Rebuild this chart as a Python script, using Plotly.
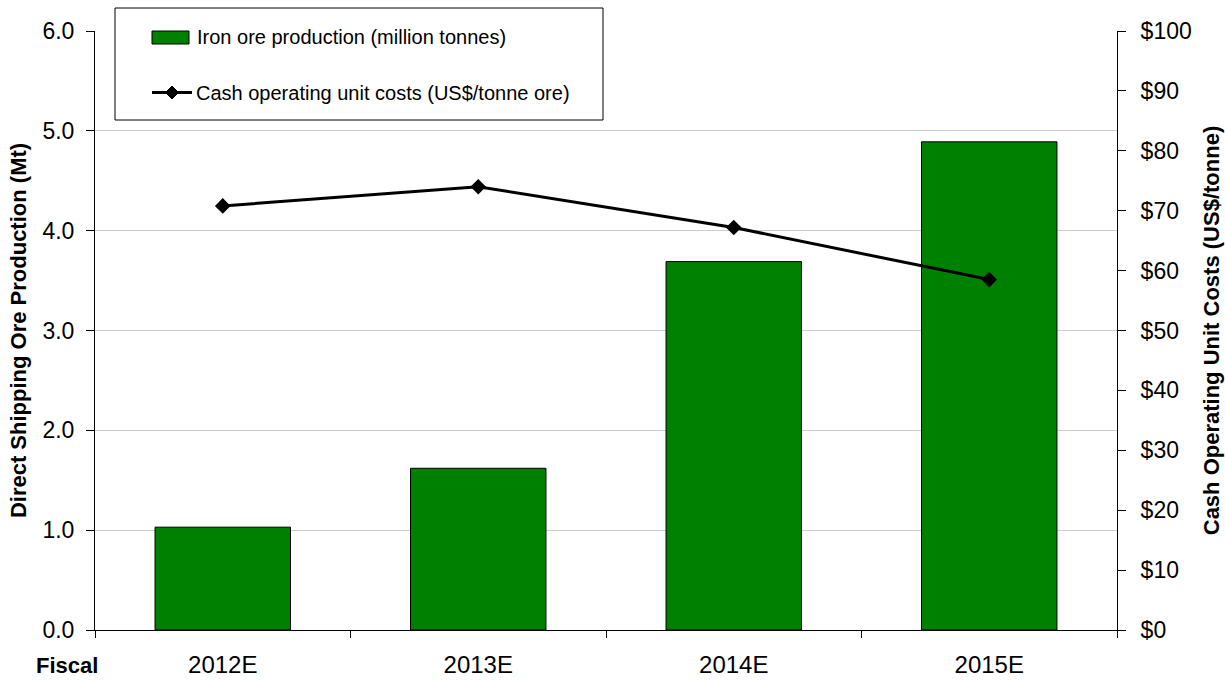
import plotly.graph_objects as go

categories = ["2012E", "2013E", "2014E", "2015E"]
production_mt = [1.03, 1.62, 3.69, 4.89]
unit_costs_usd = [70.8, 74.0, 67.2, 58.5]

bar_name = "Iron ore production (million tonnes)"
line_name = "Cash operating unit costs (US$/tonne ore)"

FONT = "Liberation Sans, Arial, sans-serif"
GREEN = "#008000"

W, H = 1225, 681
L, R, T, B = 95, 108, 31, 51
pw, ph = W - L - R, H - T - B


def px_x(x):
    return (x - L) / pw


def px_y(y):
    return (H - B - y) / ph


fig = go.Figure()
fig.add_trace(go.Bar(
    x=categories, y=production_mt, name=bar_name,
    marker=dict(color=GREEN, line=dict(color="#000000", width=1)),
    width=0.53, yaxis="y", showlegend=False,
))
fig.add_trace(go.Scatter(
    x=categories, y=unit_costs_usd, name=line_name, mode="lines+markers",
    line=dict(color="#000000", width=3),
    marker=dict(symbol="diamond", size=12, color="#000000"),
    yaxis="y2", showlegend=False,
))

# legend box (drawn manually so the swatch matches the wide rectangle)
fig.add_shape(type="rect", xref="paper", yref="paper",
              x0=px_x(115), x1=px_x(603), y0=px_y(120), y1=px_y(8),
              fillcolor="white", line=dict(color="black", width=1), layer="above")
fig.add_shape(type="rect", xref="paper", yref="paper",
              x0=px_x(152), x1=px_x(189), y0=px_y(44), y1=px_y(31),
              fillcolor=GREEN, line=dict(color="black", width=1), layer="above")
fig.add_shape(type="line", xref="paper", yref="paper",
              x0=px_x(152), x1=px_x(192), y0=px_y(92.5), y1=px_y(92.5),
              line=dict(color="black", width=3), layer="above")
cx, cy, hw = 172, 92.5, 6.5
diamond = "M {},{} L {},{} L {},{} L {},{} Z".format(
    px_x(cx - hw), px_y(cy), px_x(cx), px_y(cy - hw),
    px_x(cx + hw), px_y(cy), px_x(cx), px_y(cy + hw))
fig.add_shape(type="path", xref="paper", yref="paper", path=diamond,
              fillcolor="black", line=dict(color="black", width=1), layer="above")
fig.add_annotation(text=bar_name, xref="paper", yref="paper",
                   x=px_x(195), y=px_y(37), xanchor="left", yanchor="middle",
                   showarrow=False, font=dict(family=FONT, size=20, color="black"))
fig.add_annotation(text=line_name, xref="paper", yref="paper",
                   x=px_x(194), y=px_y(92.5), xanchor="left", yanchor="middle",
                   showarrow=False, font=dict(family=FONT, size=20, color="black"))

fig.add_annotation(text="<b>Fiscal</b>", xref="paper", yref="paper",
                   x=px_x(67), y=px_y(665), xanchor="center", yanchor="middle",
                   showarrow=False, font=dict(family=FONT, size=22, color="black"))

fig.update_layout(
    width=W, height=H,
    margin=dict(l=L, r=R, t=T, b=B, pad=0),
    paper_bgcolor="white", plot_bgcolor="white",
    font=dict(family=FONT, size=22, color="black"),
    showlegend=False,
    xaxis=dict(type="category", showline=True, linecolor="black", linewidth=1,
               ticks="outside", ticklen=7, tickcolor="black", tickson="boundaries",
               showgrid=False, ticklabelstandoff=13, automargin=False,
               tickfont=dict(family=FONT, size=24)),
    yaxis=dict(range=[0, 6], dtick=1, tickformat=".1f", showline=True,
               linecolor="black", linewidth=1, ticks="outside", ticklen=8,
               tickcolor="black", showgrid=True, gridcolor="#cccccc", gridwidth=1,
               zeroline=False, ticklabelstandoff=7, automargin=False,
               title=dict(text="<b>Direct Shipping Ore Production (Mt)</b>",
                          font=dict(family=FONT, size=22), standoff=9),
               tickfont=dict(family=FONT, size=23)),
    yaxis2=dict(range=[0, 100], dtick=10, tickprefix="$", overlaying="y",
                side="right", showline=True, linecolor="black", linewidth=1,
                ticks="outside", ticklen=8, tickcolor="black", showgrid=False,
                zeroline=False, ticklabelstandoff=10, automargin=False,
                title=dict(text="<b>Cash Operating Unit Costs (US$/tonne)</b>",
                           font=dict(family=FONT, size=22), standoff=12),
                tickfont=dict(family=FONT, size=23)),
    bargap=0.47,
)

fig.write_html("out.html")
